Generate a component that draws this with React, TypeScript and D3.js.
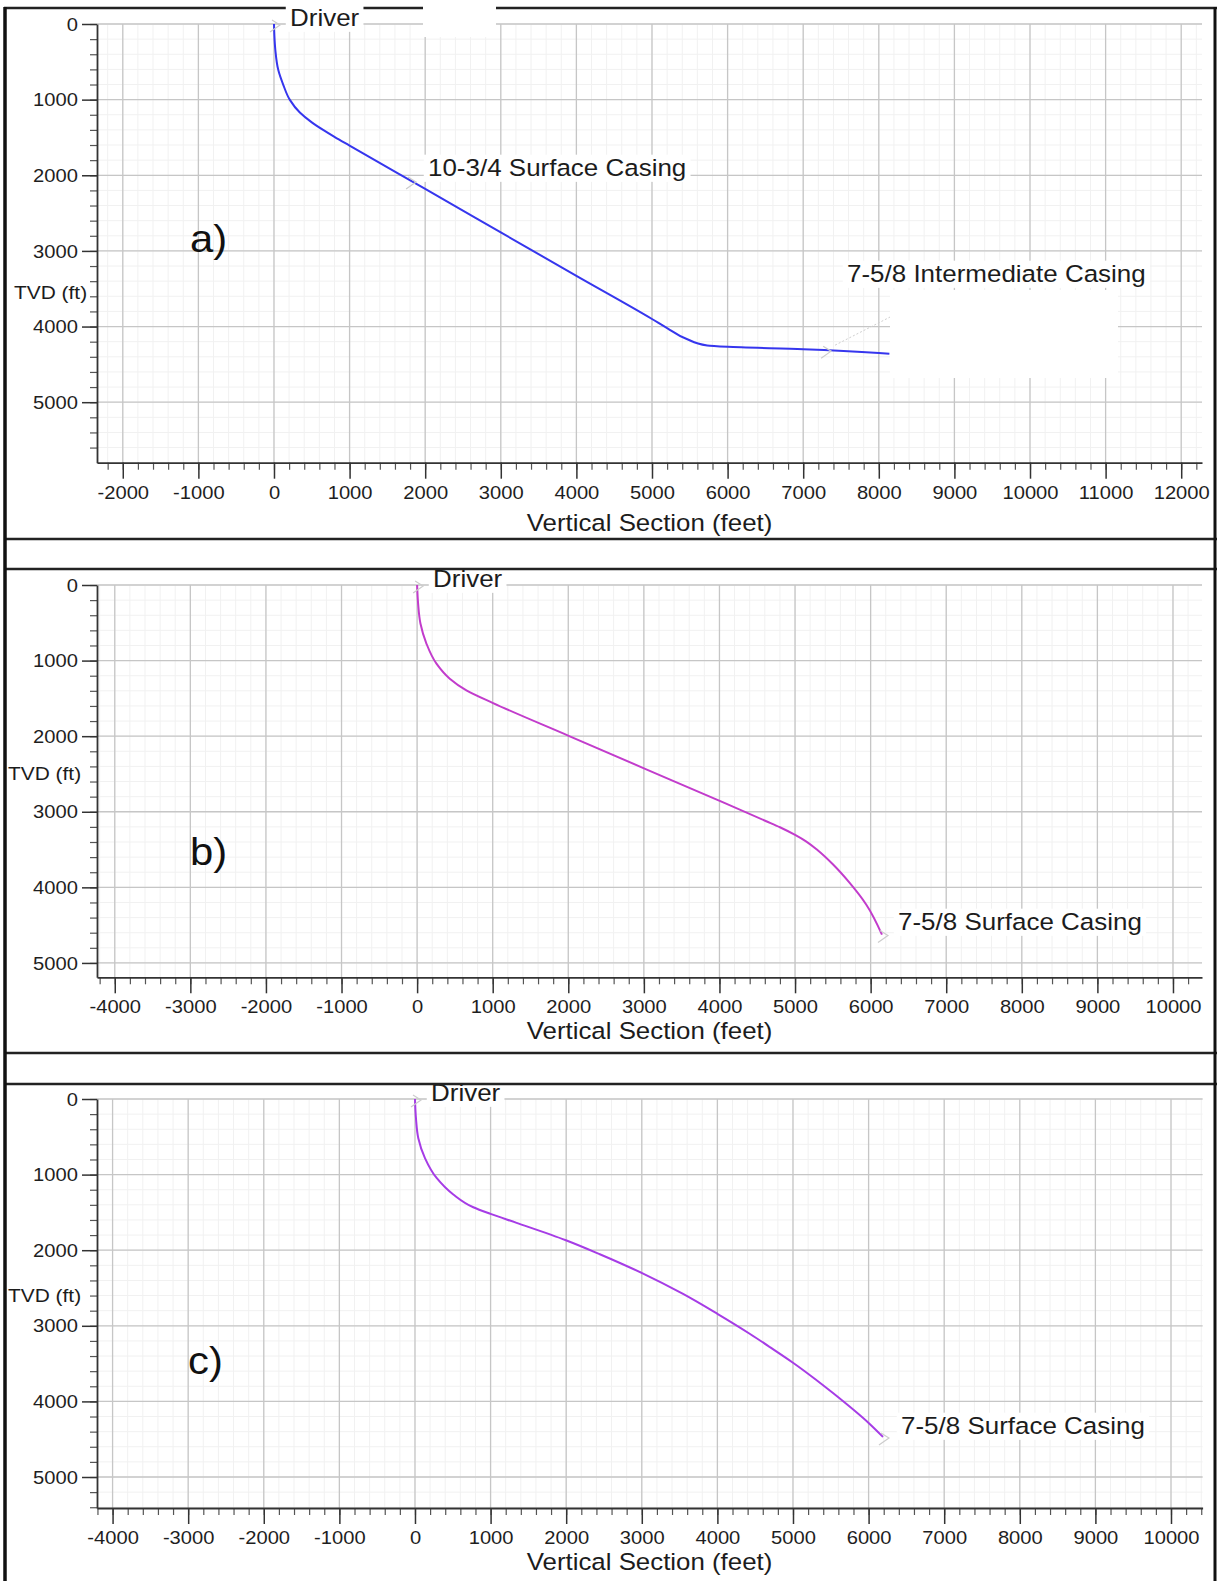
import { useEffect, useRef } from 'react';
import { select, scaleLinear, axisBottom, axisLeft, line, curveMonotoneY, range } from 'd3';

const WIDTH = 1225;
const HEIGHT = 1581;
const FONT = "'Liberation Sans', Arial, Helvetica, sans-serif";

// a) well path - vertical section (ft) / TVD (ft)
const vsA = [0, 5, 18, 57, 124, 210, 342, 500, 650, 800, 1000, 2000, 3000, 4000, 5000, 5200, 5460, 5730, 6000, 7000, 8000, 8140];
const tvdA = [0, 150, 344, 609, 807, 1003, 1170, 1300, 1400, 1492, 1608, 2180, 2755, 3330, 3900, 4020, 4165, 4250, 4268, 4300, 4350, 4360];

// b) well path
const vsB = [0, 13, 44, 123, 256, 432, 652, 1005, 2005, 3001, 4011, 4619, 4800, 5007, 5150, 5300, 5500, 5720, 5941, 6150];
const tvdB = [0, 243, 509, 774, 1040, 1239, 1394, 1562, 1995, 2425, 2860, 3125, 3205, 3310, 3395, 3510, 3695, 3938, 4226, 4625];

// c) well path
const vsC = [0, 13, 44, 132, 286, 507, 771, 1000, 1344, 1996, 2445, 3004, 3546, 4000, 4427, 4700, 5000, 5300, 5529, 6004, 6190];
const tvdC = [0, 255, 518, 781, 1044, 1263, 1432, 1520, 1638, 1868, 2053, 2303, 2579, 2842, 3105, 3285, 3488, 3710, 3890, 4289, 4470];

// tick labels
const xTicksA = [-2000, -1000, 0, 1000, 2000, 3000, 4000, 5000, 6000, 7000, 8000, 9000, 10000, 11000, 12000];
const xTicksBC = [-4000, -3000, -2000, -1000, 0, 1000, 2000, 3000, 4000, 5000, 6000, 7000, 8000, 9000, 10000];
const yTicks = [0, 1000, 2000, 3000, 4000, 5000];

// annotations: label, vertical section, TVD
const notesA = [
    { text: 'Driver', vs: 0, tvd: 0 },
    { text: '10-3/4 Surface Casing', vs: 1800, tvd: 2075 },
    { text: '7-5/8 Intermediate Casing', vs: 7290, tvd: 4312 },
];
const notesB = [
    { text: 'Driver', vs: 0, tvd: 0 },
    { text: '7-5/8 Surface Casing', vs: 6150, tvd: 4625 },
];
const notesC = [
    { text: 'Driver', vs: 0, tvd: 0 },
    { text: '7-5/8 Surface Casing', vs: 6190, tvd: 4470 },
];

const AXIS_LEFT = 97;

const panels = [
    {
        tag: 'a)', vs: vsA, tvd: tvdA, notes: notesA, color: '#3636ee', xTicks: xTicksA,
        xDomain: [-2341, 12275], yDomain: [0, 5800], top: 24, bottom: 462.7, right: 1202,
        titleY: 523, tvdPos: [14, 292], tagPos: [190, 239],
        notePos: [[290, 26], [428, 176], [847, 282]],
        masks: [[423, 4, 73, 33], [890, 290, 228, 88]],
    },
    {
        tag: 'b)', vs: vsB, tvd: tvdB, notes: notesB, color: '#c23ccc', xTicks: xTicksBC,
        xDomain: [-4235, 10384], yDomain: [0, 5190], top: 585, bottom: 977.3, right: 1202,
        titleY: 1031, tvdPos: [8, 773], tagPos: [190, 852],
        notePos: [[433, 587], [898, 930]],
        masks: [],
    },
    {
        tag: 'c)', vs: vsC, tvd: tvdC, notes: notesC, color: '#a63ce6', xTicks: xTicksBC,
        xDomain: [-4206, 10418], yDomain: [0, 5410], top: 1099, bottom: 1508, right: 1202.6,
        titleY: 1562, tvdPos: [8, 1295], tagPos: [188, 1361],
        notePos: [[431, 1101], [901, 1434]],
        masks: [],
    },
];

const addText = (parent, str, x, y, size, stretch, opts: any = {}) => {
    const g = parent.append('g').attr('transform', `translate(${x},${y}) scale(${stretch},1)`);
    const t = g.append('text')
        .text(str)
        .attr('font-family', FONT)
        .attr('font-size', size)
        .attr('fill', opts.fill || '#1c1c1c')
        .attr('text-anchor', opts.anchor || 'start');
    if (opts.central) t.attr('dominant-baseline', 'central');
    if (opts.bg) {
        const b = t.node().getBBox();
        g.insert('rect', 'text')
            .attr('x', b.x - 4).attr('y', b.y + 1)
            .attr('width', b.width + 8).attr('height', b.height)
            .attr('fill', '#fff');
    }
    return g;
};

function drawPanel(svg, p) {
    const x = scaleLinear().domain(p.xDomain).range([AXIS_LEFT, p.right]);
    const y = scaleLinear().domain(p.yDomain).range([p.top, p.bottom]);
    const g = svg.append('g');

    const minorX = range(Math.ceil(p.xDomain[0] / 200) * 200, p.xDomain[1], 200);
    const minorY = range(0, p.yDomain[1], 200);

    // minor grid
    g.append('g').selectAll('line').data(minorX).join('line')
        .attr('x1', d => x(d)).attr('x2', d => x(d))
        .attr('y1', p.top).attr('y2', p.bottom)
        .attr('stroke', '#f1f1f1').attr('stroke-width', 1);
    g.append('g').selectAll('line').data(minorY).join('line')
        .attr('x1', AXIS_LEFT).attr('x2', p.right)
        .attr('y1', d => y(d)).attr('y2', d => y(d))
        .attr('stroke', '#f1f1f1').attr('stroke-width', 1);

    // major grid
    g.append('g').selectAll('line').data(p.xTicks).join('line')
        .attr('x1', d => x(d)).attr('x2', d => x(d))
        .attr('y1', p.top).attr('y2', p.bottom)
        .attr('stroke', '#c6c6c6').attr('stroke-width', 1.3);
    g.append('g').selectAll('line').data(yTicks).join('line')
        .attr('x1', AXIS_LEFT).attr('x2', p.right)
        .attr('y1', d => y(d)).attr('y2', d => y(d))
        .attr('stroke', '#c6c6c6').attr('stroke-width', 1.3);

    // blanked-out boxes in the original picture
    p.masks.forEach(m => {
        svg.append('rect').attr('x', m[0]).attr('y', m[1]).attr('width', m[2]).attr('height', m[3]).attr('fill', '#fff');
    });

    // x axis
    const xMinor = g.append('g').attr('transform', `translate(0,${p.bottom})`)
        .call(axisBottom(x).tickValues(minorX).tickSize(7).tickFormat(() => ''));
    xMinor.select('.domain').remove();
    xMinor.selectAll('line').attr('stroke', '#555').attr('stroke-width', 1.2);

    const xAxis = g.append('g').attr('transform', `translate(0,${p.bottom})`)
        .call(axisBottom(x).tickValues(p.xTicks).tickSize(16).tickSizeOuter(0).tickFormat(d => String(d)));
    xAxis.attr('font-size', 18).attr('font-family', FONT);
    xAxis.select('.domain').attr('stroke', '#333').attr('stroke-width', 1.8);
    xAxis.selectAll('line').attr('stroke', '#333').attr('stroke-width', 1.5);
    xAxis.selectAll('text')
        .attr('y', 30).attr('dy', null)
        .attr('dominant-baseline', 'central')
        .attr('fill', '#1e1e1e')
        .attr('transform', 'scale(1.12,1)');

    // y axis
    const yMinor = g.append('g').attr('transform', `translate(${AXIS_LEFT},0)`)
        .call(axisLeft(y).tickValues(minorY).tickSize(7).tickFormat(() => ''));
    yMinor.select('.domain').remove();
    yMinor.selectAll('line').attr('stroke', '#555').attr('stroke-width', 1.2);

    const yAxis = g.append('g').attr('transform', `translate(${AXIS_LEFT},0)`)
        .call(axisLeft(y).tickValues(yTicks).tickSize(15).tickSizeOuter(0).tickFormat(d => String(d)));
    yAxis.attr('font-size', 18).attr('font-family', FONT);
    yAxis.select('.domain').attr('stroke', '#333').attr('stroke-width', 1.8);
    yAxis.selectAll('line').attr('stroke', '#333').attr('stroke-width', 1.5);
    yAxis.selectAll('text')
        .attr('x', -17).attr('dy', null)
        .attr('dominant-baseline', 'central')
        .attr('fill', '#1e1e1e')
        .attr('transform', 'scale(1.12,1)');

    // axis titles
    addText(g, 'Vertical Section (feet)', (AXIS_LEFT + 1202) / 2, p.titleY, 23.5, 1.1, { anchor: 'middle', central: true });
    addText(g, 'TVD (ft)', p.tvdPos[0], p.tvdPos[1], 19, 1.1, { central: true });
    addText(g, p.tag, p.tagPos[0], p.tagPos[1], 38, 1.1, { central: true, fill: '#111' });

    // well path
    const pts = p.vs.map((v, i) => [v, p.tvd[i]]);
    g.append('path')
        .datum(pts)
        .attr('d', line().x(d => x(d[0])).y(d => y(d[1])).curve(curveMonotoneY))
        .attr('fill', 'none')
        .attr('stroke', p.color)
        .attr('stroke-width', 2);

    // annotations
    p.notes.forEach((n, i) => {
        const px = x(n.vs);
        const py = y(n.tvd);
        const [lx, ly] = p.notePos[i];
        if (i === 2) {
            g.append('line')
                .attr('x1', px + 10).attr('y1', py - 5)
                .attr('x2', lx + 90).attr('y2', ly + 11)
                .attr('stroke', '#cfcfcf').attr('stroke-width', 1)
                .attr('stroke-dasharray', '2,2');
        }
        g.append('path')
            .attr('d', `M${px - 4},${py + 8} L${px + 6},${py + 1} L${px - 2},${py - 4}`)
            .attr('fill', 'none')
            .attr('stroke', '#cccccc')
            .attr('stroke-width', 1.2);
        addText(g, n.text, lx, ly, 24.5, 1.06, { bg: true });
    });
}

const App = () => {
    const svgRef = useRef(null);

    useEffect(() => {
        const svg = select(svgRef.current);
        svg.selectAll('*').remove();
        svg.attr('width', WIDTH).attr('height', HEIGHT);

        svg.append('rect').attr('width', WIDTH).attr('height', HEIGHT).attr('fill', '#fff');

        // top frame line sits under the first "Driver" label
        svg.append('line')
            .attr('x1', 4).attr('x2', 1217).attr('y1', 8).attr('y2', 8)
            .attr('stroke', '#222').attr('stroke-width', 2.6);

        panels.forEach(p => drawPanel(svg, p));

        // remaining figure frames
        [539, 569, 1053, 1084].forEach(fy => {
            svg.append('line')
                .attr('x1', 4).attr('x2', 1217)
                .attr('y1', fy).attr('y2', fy)
                .attr('stroke', '#222').attr('stroke-width', 2.6);
        });
        svg.append('line').attr('x1', 5).attr('x2', 5).attr('y1', 7).attr('y2', HEIGHT)
            .attr('stroke', '#111').attr('stroke-width', 3.5);
        svg.append('line').attr('x1', 1215).attr('x2', 1215).attr('y1', 7).attr('y2', HEIGHT)
            .attr('stroke', '#111').attr('stroke-width', 3);
    }, []);

    return <svg ref={svgRef} style={{ position: 'absolute', left: 0, top: 0 }}></svg>;
};

export default App;
